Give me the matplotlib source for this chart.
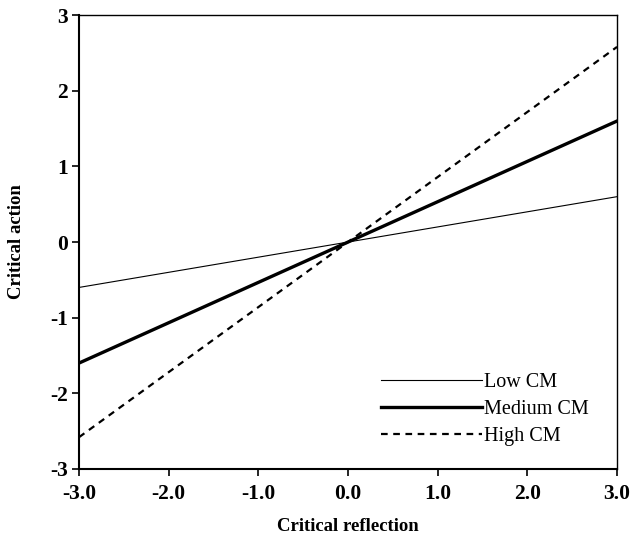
import numpy as np
import matplotlib
matplotlib.use("Agg")
import matplotlib.pyplot as plt

x_vals = [-3.0, 3.0]
low_cm = [-0.6, 0.6]
medium_cm = [-1.6, 1.6]
high_cm = [-2.58, 2.58]

x_ticks = [-3.0, -2.0, -1.0, 0.0, 1.0, 2.0, 3.0]
y_ticks = [-3, -2, -1, 0, 1, 2, 3]

plt.rcParams['font.family'] = ['Liberation Serif', 'DejaVu Serif']

fig = plt.figure(figsize=(6.33, 5.4), dpi=100)
ax = fig.add_axes([0.1248, 0.1315, 0.85, 0.8405])

ax.plot(x_vals, low_cm, color="k", lw=0.8, label="Low CM")
ax.plot(x_vals, medium_cm, color="k", lw=2.4, label="Medium CM")
ax.plot(x_vals, high_cm, color="k", lw=1.6, linestyle=(0, (3, 2.5)), label="High CM")

ax.set_xlim(-3, 3)
ax.set_ylim(-3, 3)
ax.set_xticks(x_ticks)
ax.set_xticklabels(["%.1f" % v for v in x_ticks])
ax.set_yticks(y_ticks)
ax.set_yticklabels([str(v) for v in y_ticks])

for lab in ax.get_xticklabels() + ax.get_yticklabels():
  lab.set_fontweight("bold")
  lab.set_fontsize(15.5)

ax.tick_params(direction="out", length=5, width=1.2, top=False, right=False)
ax.tick_params(axis="x", pad=6)
ax.tick_params(axis="y", pad=3)
ax.spines["left"].set_linewidth(1.5)
ax.spines["bottom"].set_linewidth(1.5)
ax.spines["top"].set_linewidth(1.0)
ax.spines["right"].set_linewidth(1.0)

ax.set_xlabel("Critical reflection", fontsize=13.5, fontweight="bold", labelpad=10)
ax.set_ylabel("Critical action", fontsize=13.5, fontweight="bold", labelpad=18)

ax.legend(loc="upper left", bbox_to_anchor=(0.561, 0.212), frameon=False, fontsize=14.5,
          handlelength=5.0, handletextpad=0.1, labelspacing=0.4, borderaxespad=0,
          borderpad=0)

fig.savefig("out.png", dpi=100)
